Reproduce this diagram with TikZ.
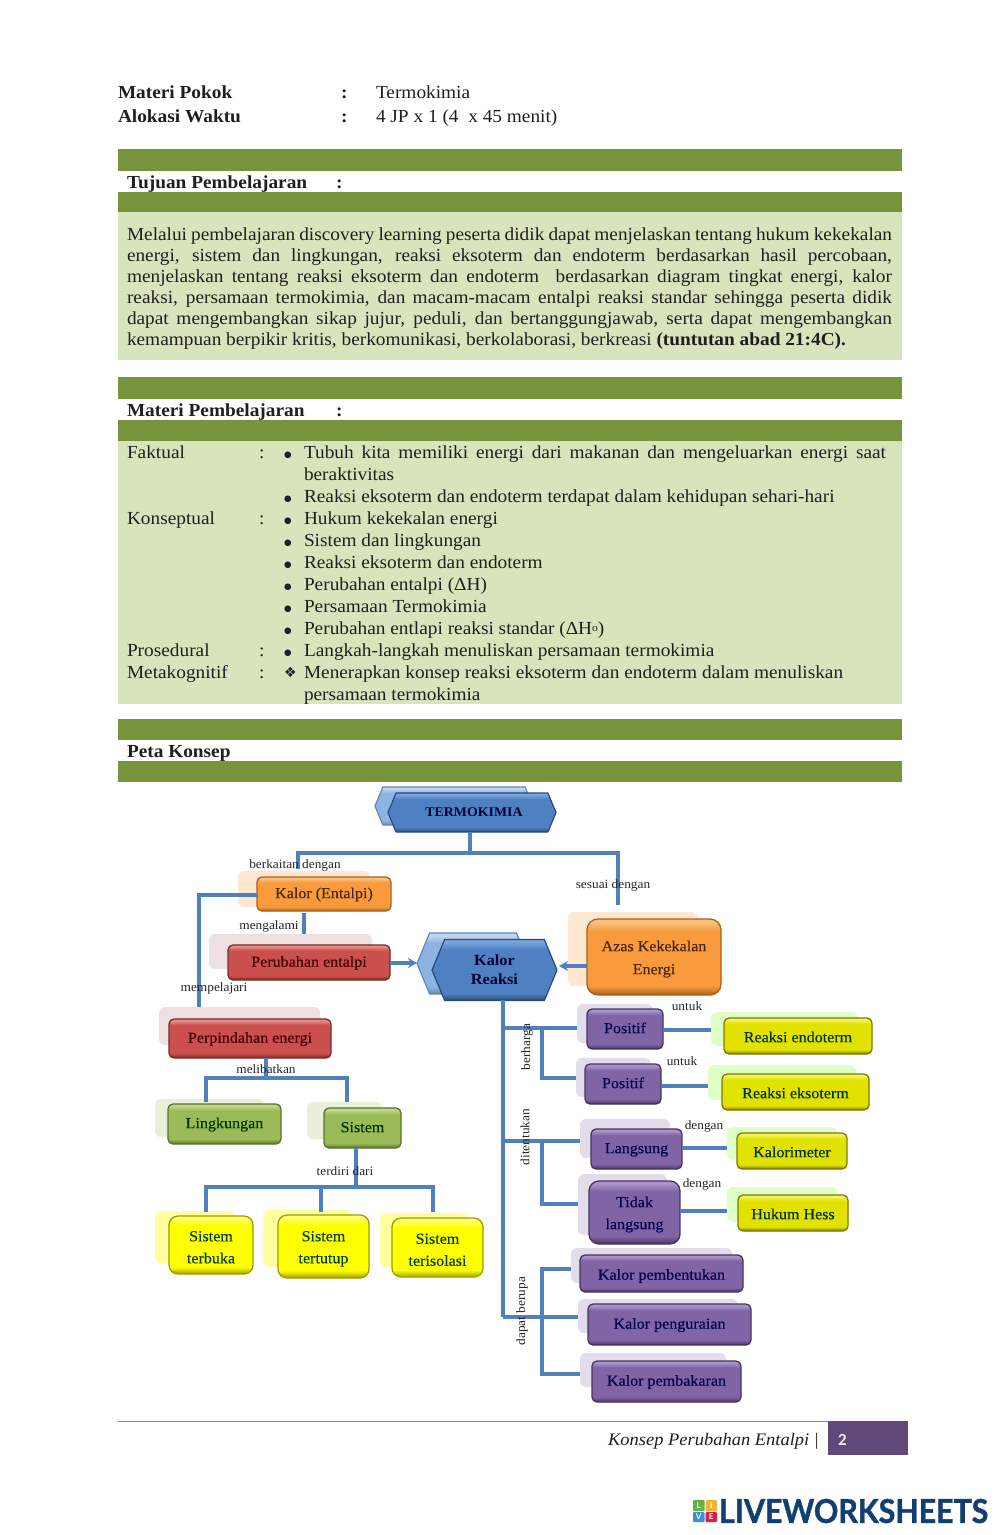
\documentclass[tikz,border=0pt]{standalone}
\usepackage{fontspec}
\setmainfont{Liberation Serif}[FakeStretch=1.05]
\newfontfamily\symfont{DejaVu Sans}
\newfontfamily\logofont{Lato}
\newfontfamily\numfont{Carlito}
\usetikzlibrary{arrows.meta,shapes.symbols,calc}
\definecolor{barG}{HTML}{77933C}\definecolor{paleG}{HTML}{D7E4BC}
\definecolor{lineB}{HTML}{4F81BD}\definecolor{pageP}{HTML}{5F497A}
\definecolor{logoN}{HTML}{123F72}
\definecolor{orL}{HTML}{FBC27F}\definecolor{orM}{HTML}{F99B3C}\definecolor{orD}{HTML}{A8611A}
\definecolor{reL}{HTML}{E58E8B}\definecolor{reM}{HTML}{CB4F4C}\definecolor{reD}{HTML}{772A28}
\definecolor{grL}{HTML}{C2D88C}\definecolor{grM}{HTML}{9BBB59}\definecolor{grD}{HTML}{5A7030}
\definecolor{yeL}{HTML}{FFFF70}\definecolor{yeM}{HTML}{FFFF00}\definecolor{yeD}{HTML}{9E9E00}
\definecolor{olL}{HTML}{F4F460}\definecolor{olM}{HTML}{E2E200}\definecolor{olD}{HTML}{7C7C00}
\definecolor{puL}{HTML}{AC94CC}\definecolor{puM}{HTML}{8064A6}\definecolor{puD}{HTML}{46345F}
\definecolor{blL}{HTML}{78A5DC}\definecolor{blM}{HTML}{4F81C2}\definecolor{blD}{HTML}{284C78}
\definecolor{lbL}{HTML}{C0D6F2}\definecolor{lbM}{HTML}{8DB3E2}\definecolor{lbD}{HTML}{6488B4}
\newcommand\mkshade[1]{\pgfdeclareverticalshading{s#1}{100bp}{color(0bp)=(#1D);color(25bp)=(#1D);color(31bp)=(#1M);color(67bp)=(#1M);color(73bp)=(#1L);color(100bp)=(#1L)}}
\mkshade{or}\mkshade{re}\mkshade{gr}\mkshade{ye}\mkshade{ol}\mkshade{pu}\mkshade{bl}\mkshade{lb}
\def\boxrad{5pt}
\tikzset{
 txt/.style={anchor=base west,inner sep=0pt,outer sep=0pt,font=\fontsize{18.4}{21}\selectfont,text=black!88},
 bar/.style={fill=barG,draw=none},
 pale/.style={fill=paleG,draw=none},
 ghostbox/.style={rounded corners=6pt,draw=none,inner sep=0pt,outer sep=0pt},
 conbox/.style={rounded corners=\boxrad,inner sep=0pt,outer sep=0pt,align=center,font=\addfontfeature{FakeBold=0.3}\fontsize{15.3}{21}\selectfont,line width=1.3pt},
 hexbox/.style={shape=signal,signal to=west and east,signal pointer angle=135,inner sep=0pt,outer sep=0pt,align=center,line width=1.2pt},
 conline/.style={draw=lineB,line width=3.4pt},
 lab/.style={inner sep=0pt,font=\fontsize{12.7}{15}\selectfont,text=black!85},
 bulletmark/.style={txt,font=\symfont\fontsize{8.6}{12}\selectfont},
}
\newcommand\ghostat[6]{\pgfmathsetmacro\cxa{(#3+#5)/2}\pgfmathsetmacro\cya{(#4+#6)/2}\pgfmathsetmacro\wa{#5-#3}\pgfmathsetmacro\ha{#6-#4}%
 \node[ghostbox,fill=#2,minimum width=\wa pt,minimum height=\ha pt] (#1) at (\cxa,\cya) {};}
\newcommand\boxat[7]{\pgfmathsetmacro\cxa{(#4+#6)/2}\pgfmathsetmacro\cya{(#5+#7)/2}\pgfmathsetmacro\wa{#6-#4}\pgfmathsetmacro\ha{#7-#5}%
 \node[conbox,shading=s#2,draw=#2D,text=#3,minimum width=\wa pt,minimum height=\ha pt] (#1) at (\cxa,\cya) {\strut\boxtext};}
\newcommand\tline[4]{\node[txt] (#1) at (#2,#3) {#4};}
\newcommand\jline[3]{\node[txt] (#1) at (127,#2) {\makebox[765pt][s]{#3}};}
\newcommand\dropt[1]{\raisebox{-2pt}{#1}}
\begin{document}
\begin{tikzpicture}[x=1pt,y=-1pt]
\useasboundingbox (0,0) rectangle (1000,1535);
\fill[white] (0,0) rectangle (1000,1535);
% header
\tline{mp}{118}{98}{\textbf{Materi Pokok}}
\tline{mpc}{341}{98}{\textbf{:}}
\tline{mpv}{376}{98}{Termokimia}
\tline{aw}{118}{122}{\textbf{Alokasi Waktu}}
\tline{awc}{341}{122}{\textbf{:}}
\tline{awv}{376}{122}{4 JP x 1 (4\ \ x 45 menit)}
% bars
\fill[bar] (118,149) rectangle (902,171);
\fill[bar] (118,192) rectangle (902,212);
\fill[pale] (118,212) rectangle (902,360);
\fill[bar] (118,377) rectangle (902,399);
\fill[bar] (118,420) rectangle (902,441);
\fill[pale] (118,441) rectangle (902,704);
\fill[bar] (118,719) rectangle (902,740);
\fill[bar] (118,761) rectangle (902,782);
\tline{tp}{127}{188}{\textbf{Tujuan Pembelajaran}}
\tline{tpc}{336}{188}{\textbf{:}}
\jline{p1}{240}{Melalui pembelajaran discovery learning peserta didik dapat menjelaskan tentang hukum kekekalan}
\jline{p2}{261}{energi, sistem dan lingkungan, reaksi eksoterm dan endoterm berdasarkan hasil percobaan,}
\jline{p3}{282}{menjelaskan tentang reaksi eksoterm dan endoterm\ \ berdasarkan diagram tingkat energi, kalor}
\jline{p4}{303}{reaksi, persamaan termokimia, dan macam-macam entalpi reaksi standar sehingga peserta didik}
\jline{p5}{324}{dapat mengembangkan sikap jujur, peduli, dan bertanggungjawab, serta dapat mengembangkan}
\tline{p6}{127}{345}{kemampuan berpikir kritis, berkomunikasi, berkolaborasi, berkreasi \textbf{(tuntutan abad 21:4C).}}
\tline{mb}{127}{416}{\textbf{Materi Pembelajaran}}
\tline{mbc}{336}{416}{\textbf{:}}
% table
\tline{l1}{127}{458}{Faktual}\tline{c1}{259}{458}{:}
\tline{l2}{127}{524}{Konseptual}\tline{c2}{259}{524}{:}
\tline{l3}{127}{656}{Prosedural}\tline{c3}{259}{656}{:}
\tline{l4}{127}{678}{Metakognitif}\tline{c4}{259}{678}{:}
\foreach \nm/\yy in {b1/457,b2/501,b3/523,b4/545,b5/567,b6/589,b7/611,b8/633,b9/655}{\node[bulletmark] (\nm) at (284,\yy) {●};}
\node[txt,font=\symfont\fontsize{14}{15}\selectfont] (b10) at (284,677.5) {❖};
\node[txt] (r1) at (304,458) {\makebox[582pt][s]{Tubuh kita memiliki energi dari makanan dan mengeluarkan energi saat}};
\tline{r2}{304}{480}{beraktivitas}
\tline{r3}{304}{502}{Reaksi eksoterm dan endoterm terdapat dalam kehidupan sehari-hari}
\tline{r4}{304}{524}{Hukum kekekalan energi}
\tline{r5}{304}{546}{Sistem dan lingkungan}
\tline{r6}{304}{568}{Reaksi eksoterm dan endoterm}
\tline{r7}{304}{590}{Perubahan entalpi (ΔH)}
\tline{r8}{304}{612}{Persamaan Termokimia}
\tline{r9}{304}{634}{Perubahan entlapi reaksi standar (ΔH\raisebox{0.3ex}{\fontsize{11}{11}\selectfont o})}
\tline{r10}{304}{656}{Langkah-langkah menuliskan persamaan termokimia}
\tline{r11}{304}{678}{Menerapkan konsep reaksi eksoterm dan endoterm dalam menuliskan}
\tline{r12}{304}{700}{persamaan termokimia}
\tline{pk}{127}{757}{\textbf{Peta Konsep}}
% ghosts
\ghostat{gKal}{orange!18!white}{238}{871}{370}{907}
\ghostat{gPer}{red!45!black!12!white}{209}{934}{372}{969}
\ghostat{gPin}{red!45!black!12!white}{159}{1007}{320}{1045}
\ghostat{gAza}{orange!18!white}{568}{912}{698}{986}
\ghostat{gPo1}{puM!22!white}{577}{1004}{653}{1043}
\ghostat{gPo2}{puM!22!white}{576}{1058}{651}{1097}
\ghostat{gEnd}{green!55!yellow!22!white}{711}{1012}{858}{1046}
\ghostat{gEks}{green!55!yellow!22!white}{708}{1065}{856}{1100}
\ghostat{gLan}{puM!22!white}{580}{1119}{670}{1158}
\ghostat{gKlm}{green!55!yellow!22!white}{727}{1127}{837}{1160}
\ghostat{gTid}{puM!22!white}{578}{1174}{667}{1235}
\ghostat{gHes}{green!55!yellow!22!white}{727}{1187}{838}{1222}
\ghostat{gPbt}{puM!22!white}{571}{1248}{732}{1283}
\ghostat{gPur}{puM!22!white}{578}{1299}{738}{1333}
\ghostat{gPbk}{puM!22!white}{580}{1353}{726}{1387}
\ghostat{gLin}{grM!22!white}{155}{1099}{264}{1137}
\ghostat{gSis}{grM!22!white}{307}{1102}{382}{1139}
\ghostat{gSa}{yeM!38!white}{155}{1211}{235}{1263}
\ghostat{gSb}{yeM!38!white}{263}{1210}{352}{1267}
\ghostat{gSc}{yeM!38!white}{380}{1213}{468}{1267}
% hexagons
\node[hexbox,shading=slb,draw=lbD,minimum width=158pt,minimum height=38pt] (termoBack) at (454,806) {};
\node[hexbox,shading=sbl,draw=blD,minimum width=168pt,minimum height=39pt,font=\bfseries\fontsize{13.2}{16}\selectfont,text=black!80!blue] (termo) at (472,812.5) {\hspace*{4pt}TERMOKIMIA};
\node[hexbox,shading=slb,draw=lbD,minimum width=112pt,minimum height=61pt] (kalorBack) at (473,963.5) {};
\node[hexbox,shading=sbl,draw=blD,minimum width=125pt,minimum height=61pt,font=\bfseries\fontsize{15.5}{19}\selectfont,text=black!80!blue] (kalorR) at (494.5,970) {Kalor\\Reaksi};
% boxes
\def\boxtext{Kalor (Entalpi)}\boxat{kal}{or}{black!70!orange}{257}{877}{391}{911}
\def\boxtext{Perubahan entalpi}\boxat{per}{re}{black!75!red}{228}{945}{390}{980}
\def\boxtext{Perpindahan energi}\boxat{pin}{re}{black!75!red}{169}{1019}{331}{1058}
\def\boxrad{11pt}
\def\boxtext{Azas Kekekalan\\[2pt]Energi}\boxat{aza}{or}{black!70!orange}{587}{919}{721}{995}
\def\boxrad{5pt}
\def\boxtext{Positif}\boxat{po1}{pu}{black!70!blue}{587}{1009}{663}{1049}
\def\boxtext{Positif}\boxat{po2}{pu}{black!70!blue}{585}{1064}{661}{1104}
\def\boxtext{\dropt{Reaksi endoterm}}\boxat{end}{ol}{black!80!green}{724}{1018}{872}{1054}
\def\boxtext{\dropt{Reaksi eksoterm}}\boxat{eks}{ol}{black!80!green}{722}{1074}{869}{1110}
\def\boxtext{Langsung}\boxat{lan}{pu}{black!70!blue}{591}{1129}{682}{1169}
\def\boxtext{\dropt{Kalorimeter}}\boxat{klm}{ol}{black!80!green}{737}{1133}{847}{1169}
\def\boxrad{10pt}
\def\boxtext{Tidak\\[1pt]langsung}\boxat{tid}{pu}{black!70!blue}{589}{1181}{680}{1244}
\def\boxrad{5pt}
\def\boxtext{\dropt{Hukum Hess}}\boxat{hes}{ol}{black!80!green}{738}{1195}{848}{1231}
\def\boxtext{\dropt{Kalor pembentukan}}\boxat{pbt}{pu}{black!70!blue}{580}{1255}{743}{1292}
\def\boxtext{Kalor penguraian}\boxat{pur}{pu}{black!70!blue}{588}{1304}{751}{1345}
\def\boxtext{Kalor pembakaran}\boxat{pbk}{pu}{black!70!blue}{592}{1361}{741}{1402}
\def\boxtext{Lingkungan}\boxat{lin}{gr}{black!80!green}{168}{1104}{281}{1144}
\def\boxtext{Sistem}\boxat{sis}{gr}{black!80!green}{324}{1108}{401}{1148}
\def\boxrad{9pt}
\def\boxtext{Sistem\\[1pt]terbuka}\boxat{sa}{ye}{black!75!green}{169}{1216}{253}{1274}
\def\boxtext{Sistem\\[1pt]tertutup}\boxat{sb}{ye}{black!75!green}{278}{1215}{369}{1278}
\def\boxtext{Sistem\\[1pt]terisolasi}\boxat{sc}{ye}{black!75!green}{392}{1218}{483}{1277}
\def\boxrad{5pt}
% junction coordinates
\coordinate (jT) at (470,853);
\coordinate (jTl) at (298,869);
\coordinate (jTr) at (618,905);
\coordinate (jK) at (304,913);
\coordinate (jM) at (199,1007);
\coordinate (jP) at (266,1078);
\coordinate (jPl) at (206,1102);
\coordinate (jPr) at (347,1102);
\coordinate (jS) at (356,1187);
\coordinate (jSa) at (206,1212);
\coordinate (jSb) at (321,1212);
\coordinate (jSc) at (433,1212);
\coordinate (tr) at (503,1000);
\coordinate (jb1) at (503,1028);
\coordinate (jb2) at (503,1141);
\coordinate (jb3) at (503,1317);
\coordinate (sub) at (542,1028);
% connectors
\draw[conline] (termo.south -| jT) -- (jT);
\draw[conline] (jTl) |- (jT) -| (jTr);
\draw[conline] (kal.west |- 0,895) -| (jM);
\draw[conline] (jK) -- (jK |- gPer.north);
\draw[conline,-{Stealth[length=9pt,width=10pt]}] (per.east |- 0,963) -- (kalorBack.west |- 0,963);
\draw[conline,-{Stealth[length=9pt,width=10pt]},shorten >=2pt] (aza.west |- 0,966) -- (kalorR.east |- 0,966);
\draw[conline] (pin.south -| jP) -- (jP);
\draw[conline] (jPl) |- (jP) -| (jPr);
\draw[conline] (sis.south -| jS) -- (jS);
\draw[conline] (jSa) |- (jS) -| (jSc);
\draw[conline] (jSb) -- (jSb |- jS);
\draw[conline] (tr) -- (jb3);
\draw[conline] (jb1) -- (jb1 -| gPo1.west);
\draw[conline] (sub) |- (gPo2.west |- 0,1078);
\draw[conline] (po1.east |- 0,1030) -- (gEnd.west |- 0,1030);
\draw[conline] (po2.east |- 0,1086) -- (gEks.west |- 0,1086);
\draw[conline] (jb2) -- (jb2 -| gLan.west);
\draw[conline] (sub |- jb2) |- (gTid.west |- 0,1204);
\draw[conline] (lan.east |- 0,1148) -- (gKlm.west |- 0,1148);
\draw[conline] (tid.east |- 0,1211) -- (gHes.west |- 0,1211);
\draw[conline] (jb3) -- (jb3 -| gPur.west);
\draw[conline] (gPbt.west |- 0,1269) -| (sub |- 0,1374) -- (gPbk.west |- 0,1374);
% labels
\node[lab] (la1) at (295,865) {berkaitan dengan};
\node[lab] (la2) at (613,885) {sesuai dengan};
\node[lab] (la3) at (269,926) {mengalami};
\node[lab] (la4) at (214,988) {mempelajari};
\node[lab] (la5) at (266,1069) {melibatkan};
\node[lab] (la6) at (345,1171) {terdiri dari};
\node[lab] (la7) at (687,1006) {untuk};
\node[lab] (la8) at (682,1061) {untuk};
\node[lab] (la9) at (704,1126) {dengan};
\node[lab] (la10) at (702,1184) {dengan};
\node[lab,rotate=90] (la11) at (527,1047) {berharga};
\node[lab,rotate=90] (la12) at (525,1137) {ditentukan};
\node[lab,rotate=90] (la13) at (522,1311) {dapat berupa};
% footer
\draw[black!45,line width=1pt] (118,1421) -- (828,1421);
\fill[pageP] (828,1421) rectangle (908,1455);
\node[txt,anchor=base east,font=\itshape\fontsize{17.6}{21}\selectfont] (fo) at (819,1445) {Konsep Perubahan Entalpi |};
\node[txt,font=\numfont\bfseries\fontsize{17}{19}\selectfont,text=white!88!pageP] (pg) at (838,1445) {2};
% logo
\definecolor{logoA}{HTML}{62B245}\definecolor{logoB}{HTML}{F3B431}\definecolor{logoC}{HTML}{3D8FDD}\definecolor{logoD}{HTML}{E21B45}
\fill[rounded corners=1pt,fill=logoA] (693,1500) rectangle (704.5,1511);
\fill[rounded corners=1pt,fill=logoB] (705.5,1500) rectangle (717,1511);
\fill[rounded corners=1pt,fill=logoC] (693,1512) rectangle (704.5,1522);
\fill[rounded corners=1pt,fill=logoD] (705.5,1512) rectangle (717,1522);
\foreach \nm/\xx/\yy/\cc in {lgL/698.7/1505.5/L,lgI/711.2/1505.5/I,lgV/698.7/1517/V,lgE/711.2/1517/E}{\node[inner sep=0pt,text=white,font=\logofont\bfseries\fontsize{8}{8}\selectfont] (\nm) at (\xx,\yy) {\cc};}
\node[anchor=west,inner sep=0pt,text=logoN] (logo) at (719,1511) {\resizebox{269pt}{24pt}{\logofont\bfseries\addfontfeature{FakeBold=1.2}LIVEWORKSHEETS}};
\end{tikzpicture}
\end{document}
